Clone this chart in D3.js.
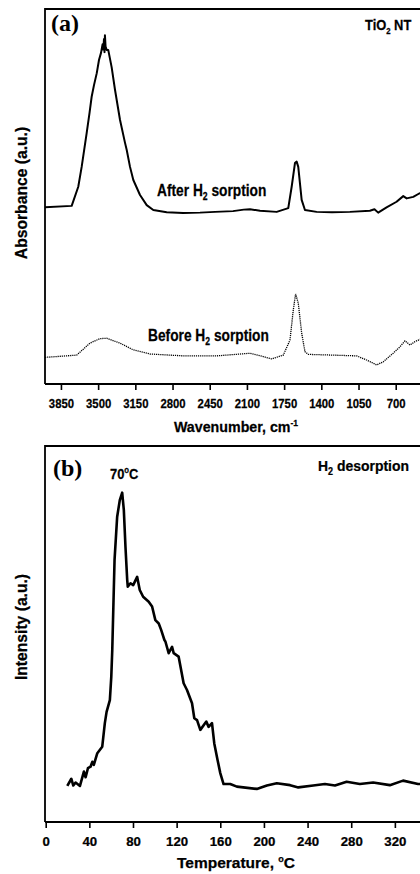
<!DOCTYPE html>
<html><head><meta charset="utf-8">
<script src="https://cdn.jsdelivr.net/npm/d3@7"></script>
<style>
html,body{margin:0;padding:0;background:#fff;}
svg{display:block;}
.t{font-family:"Liberation Sans",Arial,sans-serif;font-weight:bold;fill:#000;stroke:#000;stroke-width:0.25px;}
.s{font-family:"Liberation Serif","Times New Roman",serif;font-weight:bold;fill:#000;}
</style></head>
<body>
<script>
// ---------- Panel (a): FTIR ----------
const wavenumberTicks = [3850,3500,3150,2800,2450,2100,1750,1400,1050,700];
const afterWn  = [4000,3749,3687,3655,3608,3580,3561,3539,3513,3492,3473,3458,3451,3445,3440,3436,3430,3420,3405,3373,3341,3294,3247,3231,3200,3169,3106,3043,2981,2855,2700,2542,2400,2231,2130,2071,1977,1820,1711,1679,1648,1632,1617,1585,1554,1444,1300,1131,943,900,865,786,692,629,597,535,479,420];
const afterAbs = [47.1,47.5,52.6,57.9,66.9,72.5,76.6,79.7,82.9,86.4,88.3,90.6,89.2,92.0,88.5,93.0,90.0,89.1,89.1,84.5,78.4,70.4,64.3,62.4,57.9,54.4,50.4,47.7,46.4,45.8,45.6,45.7,45.9,46.1,46.5,46.6,46.2,45.9,46.9,52.6,58.9,59.3,57.9,49.1,46.4,45.9,45.8,45.9,46.2,46.6,45.7,47.1,48.6,50.1,49.5,49.9,50.8,51.3];
const beforeWn  = [4000,3702,3577,3483,3420,3294,3169,3012,2699,2385,2071,1946,1867,1758,1695,1664,1642,1617,1585,1554,1523,1288,1068,974,880,818,724,661,613,566,519,472,420];
const beforeAbs = [7.1,7.7,10.9,12.1,12.2,10.9,9.1,8.0,7.5,7.5,8.2,7.3,6.7,7.7,11.7,19.7,24.0,21.6,13.6,8.6,7.9,7.7,7.5,6.4,5.1,5.9,8.2,9.9,11.5,10.4,11.3,11.9,12.3];

// ---------- Panel (b): TPD ----------
const tempTicks = [0,40,80,120,160,200,240,280,320];
const temp = [19.8,23.5,25.3,27.4,31.4,35.0,36.6,38.7,41.1,42.7,44.1,47.3,51.8,54.2,55.8,58.8,60.1,61.0,63.1,65.5,67.9,70.1,71.6,73.1,74.7,75.2,77.7,80.2,83.8,86.2,89.3,94.4,97.5,100.5,103.6,105.8,108.8,109.7,112.7,115.8,117.3,121.8,126.4,129.5,134.1,136.2,138.7,141.7,147.2,149.3,152.4,154.5,157.5,160.0,163.0,169.1,175.2,193.5,202.7,211.8,224.0,231.5,245.2,255.9,265.1,275.8,287.9,300.1,315.4,327.5,341.2,352];
const intensity = [9.6,11.5,9.7,10.5,9.6,13.4,11.9,14.3,14.7,16.0,15.2,18.3,20.0,26.3,29.3,32.4,38.6,45.7,69.7,81.2,85.6,87.6,83.0,73.2,64.4,62.6,63.5,63.0,65.2,61.7,59.9,58.6,57.3,53.7,52.8,51.1,48.4,48.0,44.9,46.6,44.9,44.0,36.9,35.1,31.6,27.6,27.1,24.5,26.7,25.3,26.3,20.9,16.5,13.0,10.1,10.1,9.4,8.8,9.7,10.3,9.8,9.2,9.7,10.1,9.7,10.7,10.1,10.5,9.8,11.0,10.1,10.1];

const W = 420, H = 874;
const svg = d3.select("body").append("svg").attr("width", W).attr("height", H);
svg.append("rect").attr("width", W).attr("height", H).attr("fill", "#fff");

const L = 45, R = 427.6;

function panel(top, bottom, xScale, ticks, id, sx) {
  const g = svg.append("g");
  g.append("clipPath").attr("id", id).append("rect")
    .attr("x", L).attr("y", top).attr("width", R - L).attr("height", bottom - top);
  g.append("path").attr("d", `M${R},${top}H${L}V${bottom}`)
    .attr("fill", "none").attr("stroke", "#000").attr("stroke-width", 1.8);
  g.append("line").attr("x1", R).attr("x2", R).attr("y1", top).attr("y2", bottom)
    .attr("stroke", "#000").attr("stroke-width", 1.8);
  const ax = g.append("g").attr("transform", `translate(0,${bottom})`)
    .call(d3.axisBottom(xScale).tickValues(ticks).tickFormat(d3.format("d"))
      .tickSize(6).tickPadding(8.5).tickSizeOuter(0));
  ax.attr("font-family", null).attr("font-size", null);
  ax.select(".domain").attr("stroke-width", 2).attr("d", `M${L},0H${R}`);
  ax.selectAll(".tick line").attr("stroke-width", 1.6);
  ax.selectAll(".tick text").attr("class", "t").style("font-size", "13.5px")
    .attr("fill", "#000").attr("transform", `scale(${sx},1)`);
  return g;
}

// Panel a
const xA = d3.scaleLinear().domain([4000, 400]).range([L, R]);
const yA = d3.scaleLinear().domain([0, 100]).range([384, 9]);
const gA = panel(9, 384, xA, wavenumberTicks, "clipA", 0.84);
const lineA = d3.line().x(d => xA(d[0])).y(d => yA(d[1]));
gA.append("path").datum(afterWn.map((w, i) => [w, afterAbs[i]]))
  .attr("clip-path", "url(#clipA)")
  .attr("d", lineA).attr("fill", "none").attr("stroke", "#000").attr("stroke-width", 2).attr("stroke-linejoin", "round");
gA.append("path").datum(beforeWn.map((w, i) => [w, beforeAbs[i]]))
  .attr("clip-path", "url(#clipA)")
  .attr("d", lineA).attr("fill", "none").attr("stroke", "#000").attr("stroke-width", 1.3)
  .attr("stroke-dasharray", "1.2,0.9");

// Panel b
const xB = d3.scaleLinear().domain([0, 350]).range([45.7, R]);
const yB = d3.scaleLinear().domain([0, 100]).range([822, 446]);
const gB = panel(446, 822, xB, tempTicks, "clipB", 0.98);
const lineB = d3.line().x(d => xB(d[0])).y(d => yB(d[1]));
gB.append("path").datum(temp.map((t, i) => [t, intensity[i]]))
  .attr("clip-path", "url(#clipB)")
  .attr("d", lineB).attr("fill", "none").attr("stroke", "#000").attr("stroke-width", 2.6).attr("stroke-linejoin", "round");

// ---------- Text ----------
function txt(x, y, size, cls, sx, anchor, rot) {
  const g = svg.append("g").attr("transform",
    `translate(${x},${y})` + (rot ? ` rotate(${rot})` : "") + ` scale(${sx},1)`);
  return g.append("text").attr("class", cls)
    .style("font-size", size + "px").attr("text-anchor", anchor || "start");
}
function sub(t, a, b, c, fs) {
  t.append("tspan").text(a);
  t.append("tspan").attr("dy", 4).style("font-size", fs + "px").text(b);
  t.append("tspan").attr("dy", -4).text(c);
}
function sup(t, a, b, c, fs, d) {
  t.append("tspan").text(a);
  t.append("tspan").attr("dy", -d).style("font-size", fs + "px").text(b);
  if (c) t.append("tspan").attr("dy", d).text(c);
}
txt(51, 31, 24, "s", 1).text("(a)");
txt(53, 476, 24, "s", 1).text("(b)");

sub(txt(365, 30, 15, "t", 0.86), "TiO", "2", " NT", 9);
sub(txt(157, 196, 16, "t", 0.86), "After H", "2", " sorption", 10);
sub(txt(148, 341, 16, "t", 0.86), "Before H", "2", " sorption", 10);
sup(txt(110, 479, 15, "t", 0.86), "70", "o", "C", 9, 6);
sub(txt(318, 471, 15.5, "t", 0.9), "H", "2", " desorption", 10);

sup(txt(236, 432, 15, "t", 0.95, "middle"), "Wavenumber, cm", "-1", null, 9, 6);
sup(txt(236, 868, 15.5, "t", 1.0, "middle"), "Temperature, ", "o", "C", 9, 6);

txt(26.5, 193, 16.5, "t", 0.95, "middle", -90).text("Absorbance (a.u.)");
txt(26.5, 627, 16.5, "t", 0.95, "middle", -90).text("Intensity (a.u.)");
</script>
</body></html>
